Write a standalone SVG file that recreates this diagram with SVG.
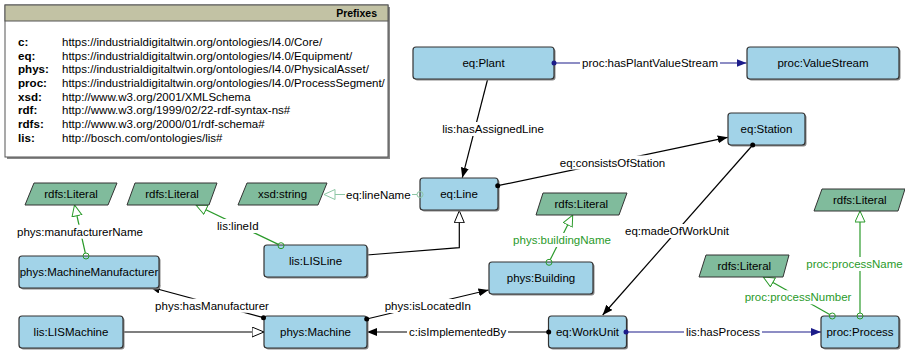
<svg xmlns="http://www.w3.org/2000/svg" width="905" height="351" viewBox="0 0 905 351">
<style>
text{font-family:"Liberation Sans",Arial,sans-serif;}
.t{font-size:11.5px;fill:#000;text-anchor:middle;}
.tg{font-size:11.5px;fill:#2a9a2a;text-anchor:middle;}
.node{fill:#a2d3e8;stroke:#333;stroke-width:1.2;}
.sh{fill:#888;}
.lit{fill:#80bb9c;stroke:#333;stroke-width:1;}
.bg{fill:#fff;}
.op{fill:none;stroke:#000;stroke-width:1.2;}
.nv{fill:none;stroke:#1c1c8a;stroke-width:1.2;}
.dp{fill:none;stroke:#2a9a2a;stroke-width:1.2;}
.dpl{fill:none;stroke:#8cc6a4;stroke-width:1.2;}
.pk{font-size:11.6px;font-weight:bold;fill:#000;}
.pv{font-size:11.5px;fill:#000;}
</style>
<defs>
<marker id="aB" markerUnits="userSpaceOnUse" markerWidth="11" markerHeight="9" refX="10" refY="4" orient="auto"><path d="M0,0 L10,4 L0,8 z" fill="#000"/></marker>
<marker id="aN" markerUnits="userSpaceOnUse" markerWidth="11" markerHeight="9" refX="10" refY="4" orient="auto"><path d="M0,0 L10,4 L0,8 z" fill="#1c1c8a"/></marker>
<marker id="sub" markerUnits="userSpaceOnUse" markerWidth="14" markerHeight="12" refX="12.5" refY="5.5" orient="auto"><path d="M0.5,0.5 L12.5,5.5 L0.5,10.5 z" fill="#fff" stroke="#000" stroke-width="1"/></marker>
<marker id="tG" markerUnits="userSpaceOnUse" markerWidth="13" markerHeight="12" refX="11.5" refY="5.5" orient="auto"><path d="M0.5,0.5 L11.5,5.5 L0.5,10.5 z" fill="#fff" stroke="#2a9a2a" stroke-width="1"/></marker>
<marker id="tL" markerUnits="userSpaceOnUse" markerWidth="13" markerHeight="12" refX="11.5" refY="5.5" orient="auto"><path d="M0.5,0.5 L11.5,5.5 L0.5,10.5 z" fill="#fff" stroke="#8cc6a4" stroke-width="1"/></marker>
</defs>
<rect width="905" height="351" fill="#fff"/>

<g id="prefixes">
<rect x="7" y="7" width="383" height="152" fill="#888"/>
<rect x="5" y="5" width="383" height="152" fill="#fff" stroke="#555" stroke-width="1"/>
<rect x="5" y="5" width="383" height="16" fill="#c2c2a4" stroke="#555" stroke-width="1"/>
<text x="377" y="17.3" text-anchor="end" style="font-size:10.5px;font-weight:bold">Prefixes</text>
<text class="pk" x="18" y="46">c:</text><text class="pv" x="62" y="46">https://industrialdigitaltwin.org/ontologies/I4.0/Core/</text>
<text class="pk" x="18" y="59.7">eq:</text><text class="pv" x="62" y="59.7">https://industrialdigitaltwin.org/ontologies/I4.0/Equipment/</text>
<text class="pk" x="18" y="73.3">phys:</text><text class="pv" x="62" y="73.3">https://industrialdigitaltwin.org/ontologies/I4.0/PhysicalAsset/</text>
<text class="pk" x="18" y="87">proc:</text><text class="pv" x="62" y="87">https://industrialdigitaltwin.org/ontologies/I4.0/ProcessSegment/</text>
<text class="pk" x="18" y="100.7">xsd:</text><text class="pv" x="62" y="100.7">http://www.w3.org/2001/XMLSchema</text>
<text class="pk" x="18" y="114.3">rdf:</text><text class="pv" x="62" y="114.3">http://www.w3.org/1999/02/22-rdf-syntax-ns#</text>
<text class="pk" x="18" y="128">rdfs:</text><text class="pv" x="62" y="128">http://www.w3.org/2000/01/rdf-schema#</text>
<text class="pk" x="18" y="141.7">lis:</text><text class="pv" x="62" y="141.7">http://bosch.com/ontologies/lis#</text>
</g>

<g id="connectors">
<path class="op" d="M487.7,79 L462.3,177.7" marker-end="url(#aB)"/>
<path class="nv" d="M554,63 L746.5,63" marker-end="url(#aN)"/>
<path class="op" d="M497.7,185.7 L727.7,137.3" marker-end="url(#aB)"/>
<path class="op" d="M752.7,145 L602.7,315" marker-end="url(#aB)"/>
<path class="op" d="M548.7,332 L367,332" marker-end="url(#aB)"/>
<path class="nv" d="M626,332 L821,332" marker-end="url(#aN)"/>
<path class="op" d="M366.7,319 L488.5,290" marker-end="url(#aB)"/>
<path class="op" d="M263.5,317.7 L150,287" marker-end="url(#aB)"/>
<path class="op" d="M122.7,332 L264,332" marker-end="url(#sub)"/>
<path class="op" d="M366.7,255 L459.3,247.7 L459.3,210.7" marker-end="url(#sub)"/>
<path class="dpl" d="M417,194.5 L324,194.5" marker-end="url(#tL)"/>
<path class="dp" d="M278.3,244.4 L196,205" marker-end="url(#tG)"/>
<path class="dp" d="M85.3,253 L74.5,205" marker-end="url(#tG)"/>
<path class="dp" d="M550.3,259.6 L572.7,215" marker-end="url(#tG)"/>
<path class="dp" d="M829.7,314.5 L763.3,277" marker-end="url(#tG)"/>
<path class="dp" d="M860,313 L860,211" marker-end="url(#tG)"/>

<rect class="bg" x="441" y="122" width="104" height="14"/><text class="t" x="493" y="133.3">lis:hasAssignedLine</text>
<rect class="bg" x="580" y="56" width="140" height="14"/><text class="t" x="650" y="67.3">proc:hasPlantValueStream</text>
<rect class="bg" x="558" y="155.5" width="109" height="14"/><text class="t" x="612.5" y="166.7">eq:consistsOfStation</text>
<rect class="bg" x="624" y="224" width="106" height="14"/><text class="t" x="677" y="235">eq:madeOfWorkUnit</text>
<rect class="bg" x="407" y="325" width="101" height="14"/><text class="t" x="457.7" y="336">c:isImplementedBy</text>
<rect class="bg" x="684" y="325" width="78" height="14"/><text class="t" x="723" y="336">lis:hasProcess</text>
<rect class="bg" x="383" y="299" width="90" height="14"/><text class="t" x="427.8" y="310">phys:isLocatedIn</text>
<rect class="bg" x="154" y="298.7" width="117" height="14"/><text class="t" x="212" y="309.7">phys:hasManufacturer</text>
<rect class="bg" x="15" y="224.7" width="130" height="14"/><text class="t" x="80" y="235.7">phys:manufacturerName</text>
<rect class="bg" x="215" y="219" width="46" height="14"/><text class="t" x="237.8" y="230">lis:lineId</text>
<rect class="bg" x="345" y="188" width="67" height="14"/><text class="t" x="378.3" y="199">eq:lineName</text>
<rect class="bg" x="511" y="233" width="102" height="14"/><text class="tg" x="562" y="244">phys:buildingName</text>
<rect class="bg" x="743" y="290.3" width="110" height="14"/><text class="tg" x="798" y="301.3">proc:processNumber</text>
<rect class="bg" x="804" y="257" width="100" height="14"/><text class="tg" x="854.5" y="268">proc:processName</text>
</g>

<g id="n-plant"><rect class="sh" x="414.5" y="48.5" width="141" height="32" rx="3"/><rect class="node" x="413" y="47" width="141" height="32" rx="3"/><text class="t" x="483.5" y="67.2">eq:Plant</text></g>
<g id="n-valuestream"><rect class="sh" x="748.5" y="48.5" width="152" height="32" rx="3"/><rect class="node" x="747" y="47" width="152" height="32" rx="3"/><text class="t" x="823" y="67.2">proc:ValueStream</text></g>
<g id="n-station"><rect class="sh" x="729.5" y="114.5" width="77" height="32" rx="3"/><rect class="node" x="728" y="113" width="77" height="32" rx="3"/><text class="t" x="766.5" y="133.2">eq:Station</text></g>
<g id="n-line"><rect class="sh" x="421.5" y="179.5" width="78" height="32" rx="3"/><rect class="node" x="420" y="178" width="78" height="32" rx="3"/><text class="t" x="459" y="198.2">eq:Line</text></g>
<g id="n-xsdstring"><polygon class="lit" points="247,183 327,183 318,205 238,205"/><text class="t" x="282.5" y="198.2">xsd:string</text></g>
<g id="n-lit-manuf"><polygon class="lit" points="34,183 117,183 108,205 25,205"/><text class="t" x="71" y="198.2">rdfs:Literal</text></g>
<g id="n-lit-lineid"><polygon class="lit" points="135,183 217,183 209,205 127,205"/><text class="t" x="172" y="198.2">rdfs:Literal</text></g>
<g id="n-lit-building"><polygon class="lit" points="543,193 627,193 619,215 536,215"/><text class="t" x="581.3" y="208.2">rdfs:Literal</text></g>
<g id="n-lit-procnum"><polygon class="lit" points="706,255 789,255 783,277 699,277"/><text class="t" x="744.3" y="270.2">rdfs:Literal</text></g>
<g id="n-lit-procname"><polygon class="lit" points="822,189 905,189 898,211 814,211"/><text class="t" x="859.8" y="204.2">rdfs:Literal</text></g>
<g id="n-manufacturer"><rect class="sh" x="20.5" y="257.5" width="140" height="32" rx="3"/><rect class="node" x="19" y="256" width="140" height="32" rx="3"/><text class="t" x="89" y="276.2">phys:MachineManufacturer</text></g>
<g id="n-lisline"><rect class="sh" x="265.5" y="246.5" width="103" height="32" rx="3"/><rect class="node" x="264" y="245" width="103" height="32" rx="3"/><text class="t" x="315.5" y="265.2">lis:LISLine</text></g>
<g id="n-lismachine"><rect class="sh" x="20.5" y="317.5" width="104" height="32" rx="3"/><rect class="node" x="19" y="316" width="104" height="32" rx="3"/><text class="t" x="71" y="336.2">lis:LISMachine</text></g>
<g id="n-machine"><rect class="sh" x="265.5" y="317.5" width="103" height="32" rx="3"/><rect class="node" x="264" y="316" width="103" height="32" rx="3"/><text class="t" x="315.5" y="336.2">phys:Machine</text></g>
<g id="n-building"><rect class="sh" x="490.5" y="263.5" width="104" height="32" rx="3"/><rect class="node" x="489" y="262" width="104" height="32" rx="3"/><text class="t" x="541" y="282.2">phys:Building</text></g>
<g id="n-workunit"><rect class="sh" x="550" y="317.5" width="78" height="32" rx="3"/><rect class="node" x="548.5" y="316" width="78" height="32" rx="3"/><text class="t" x="587.5" y="336.2">eq:WorkUnit</text></g>
<g id="n-process"><rect class="sh" x="822.5" y="317.5" width="78" height="32" rx="3"/><rect class="node" x="821" y="316" width="78" height="32" rx="3"/><text class="t" x="860" y="336.2">proc:Process</text></g>

<g id="connector-ends">
<circle cx="554" cy="63" r="2.5" fill="#1c1c8a"/>
<circle cx="626" cy="332" r="2.5" fill="#1c1c8a"/>
<circle cx="497.7" cy="185.7" r="2.5" fill="#000"/>
<circle cx="752.7" cy="145" r="2.5" fill="#000"/>
<circle cx="548.7" cy="332" r="2.5" fill="#000"/>
<circle cx="366.7" cy="319" r="2.5" fill="#000"/>
<circle cx="263.5" cy="317.7" r="2.5" fill="#000"/>
<circle cx="420" cy="194.5" r="3" fill="none" stroke="#8cc6a4"/>
<circle cx="281" cy="245.7" r="3" fill="none" stroke="#2a9a2a"/>
<circle cx="86" cy="256" r="3" fill="none" stroke="#2a9a2a"/>
<circle cx="549" cy="262.3" r="3" fill="none" stroke="#2a9a2a"/>
<circle cx="832.3" cy="316" r="3" fill="none" stroke="#2a9a2a"/>
<circle cx="860" cy="316" r="3" fill="none" stroke="#2a9a2a"/>
</g>
</svg>
